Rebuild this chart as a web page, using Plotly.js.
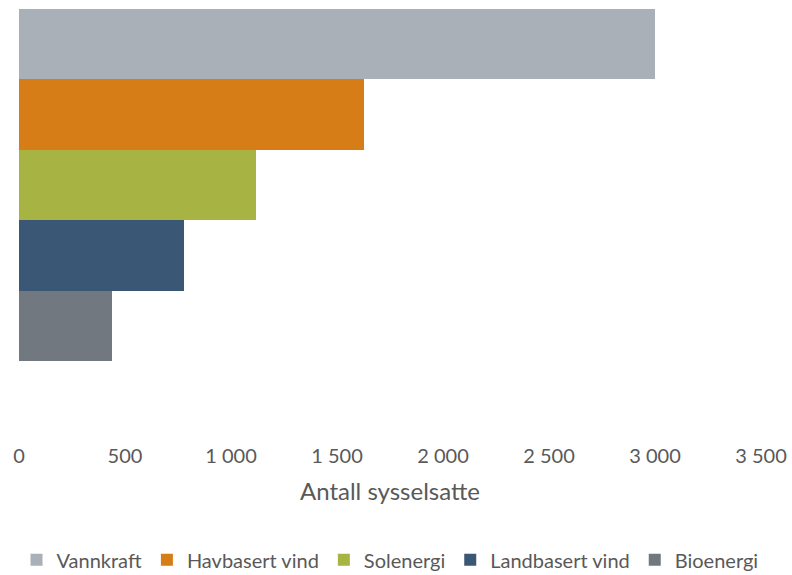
<!DOCTYPE html>
<html>
<head>
<meta charset="utf-8">
<script src="https://cdn.plot.ly/plotly-3.0.1.min.js"></script>
<style>html,body{margin:0;padding:0;background:#fff;}#chart{width:792px;height:575px;}</style>
</head>
<body>
<div id="chart"></div>
<script>
const seriesNames = ["Vannkraft", "Havbasert vind", "Solenergi", "Landbasert vind", "Bioenergi"];
const seriesValues = [3000, 1627, 1118, 778, 438];
const seriesColors = ["#A9B0B8", "#D67D17", "#A7B343", "#3A5775", "#717880"];
const xTickValues = [0, 500, 1000, 1500, 2000, 2500, 3000, 3500];
const xTickLabels = ["0", "500", "1 000", "1 500", "2 000", "2 500", "3 000", "3 500"];
const category = [0];

const textColor = "#595959";
const fontFamily = "Lato, 'Open Sans', sans-serif";

const traces = seriesNames.map((name, i) => ({
  type: "bar",
  orientation: "h",
  name: name,
  x: [seriesValues[i]],
  y: category,
  marker: { color: seriesColors[i], line: { width: 0 } },
  hoverinfo: "x+name"
}));

const layout = {
  width: 792,
  height: 575,
  margin: { l: 19, r: 31, t: 9, b: 133, autoexpand: false },
  paper_bgcolor: "#ffffff",
  plot_bgcolor: "#ffffff",
  barmode: "group",
  bargap: 0,
  bargroupgap: 0,
  showlegend: true,
  font: { family: fontFamily, color: textColor, size: 20 },
  xaxis: {
    range: [0, 3500],
    tickvals: xTickValues,
    ticktext: xTickLabels,
    showgrid: false,
    zeroline: false,
    showline: false,
    ticks: "",
    automargin: false,
    tickfont: { size: 20, color: textColor, family: fontFamily },
    title: { text: "Antall sysselsatte", font: { size: 24, color: textColor, family: fontFamily }, standoff: 17 },
    fixedrange: true
  },
  yaxis: {
    range: [0.73, -0.5],
    showticklabels: false,
    showgrid: false,
    zeroline: false,
    showline: false,
    ticks: "",
    automargin: false,
    fixedrange: true
  },
  legend: {
    orientation: "h",
    x: 0.5,
    xanchor: "center",
    y: -0.272,
    yanchor: "middle",
    traceorder: "normal",
    font: { size: 20, color: textColor, family: fontFamily },
    itemwidth: 30
  }
};

Plotly.newPlot("chart", traces, layout, { displayModeBar: false, staticPlot: true });
</script>
</body>
</html>
